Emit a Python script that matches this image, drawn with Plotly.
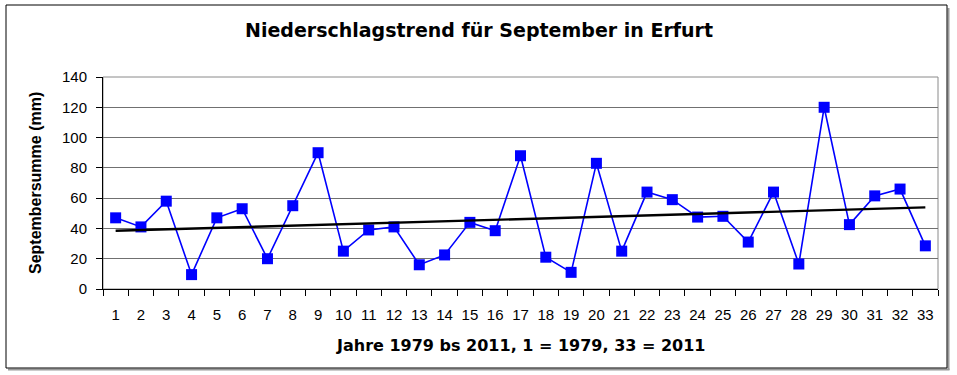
import numpy as np
import plotly.graph_objects as go

# Data
years_idx = [str(i) for i in range(1, 34)]
niederschlag = [47, 41, 58, 9.5, 47, 53, 20, 55, 90, 25, 39, 41, 16, 22.5, 44, 38.5,
                88, 21, 11, 83, 25, 64, 59, 47.5, 48, 31, 64, 16.5, 120, 42.5, 61.5, 66, 28.5]
y_ticks = [0, 20, 40, 60, 80, 100, 120, 140]

# Linear trend from the data
xnum = np.arange(1, 34)
coef = np.polyfit(xnum, niederschlag, 1)
trend = list(np.polyval(coef, xnum))

W, H = 957, 375
L, R, T, B = 103, 19, 77, 86
PW, PH = W - L - R, H - T - B


def px(x):
    return (x - L) / PW


def py(y):
    return (H - B - y) / PH


fig = go.Figure()
fig.add_trace(go.Scatter(
    x=years_idx, y=niederschlag, mode="lines+markers",
    line=dict(color="#0000FF", width=1.6),
    marker=dict(symbol="square", size=11, color="#0000FF", line=dict(width=0)),
    showlegend=False, cliponaxis=False))
fig.add_trace(go.Scatter(
    x=years_idx, y=trend, mode="lines",
    line=dict(color="black", width=2.4), showlegend=False))

FONT = "Liberation Sans, Arial, sans-serif"
BFONT = "DejaVu Sans, Arial, sans-serif"

fig.update_layout(
    width=W, height=H,
    margin=dict(l=L, r=R, t=T, b=B),
    paper_bgcolor="white", plot_bgcolor="white",
    font=dict(family=FONT, color="black"),
    xaxis=dict(type="category", tickson="boundaries", ticks="outside", ticklen=6,
               tickcolor="black", showline=True, linecolor="black", linewidth=1,
               showgrid=False, tickfont=dict(size=15, family=FONT), fixedrange=True,
               range=[-0.5, 32.5], ticklabelstandoff=12, tickangle=0),
    yaxis=dict(range=[0, 140], tickvals=y_ticks, ticks="outside", ticklen=6,
               tickcolor="black", showline=True, linecolor="black", linewidth=1,
               showgrid=True, gridcolor="#707070", gridwidth=1,
               tickfont=dict(size=15, family=FONT), ticklabelstandoff=6,
               zeroline=False),
    shapes=[
        dict(type="rect", xref="paper", yref="paper", x0=0, x1=1, y0=0, y1=1,
             line=dict(color="#8a8a8a", width=1), layer="below"),
        dict(type="line", xref="paper", yref="paper", x0=px(948.5), x1=px(948.5),
             y0=py(8), y1=py(370), line=dict(color="#9a9a9a", width=2)),
        dict(type="line", xref="paper", yref="paper", x0=px(8), x1=px(949.5),
             y0=py(369.5), y1=py(369.5), line=dict(color="#9a9a9a", width=2)),
        dict(type="rect", xref="paper", yref="paper", x0=px(6), x1=px(947),
             y0=py(368), y1=py(5), line=dict(color="black", width=1)),
    ],
    annotations=[
        dict(text="<b>Niederschlagstrend für September in Erfurt</b>", xref="paper",
             yref="paper", x=px(478.5), y=py(30), xanchor="center", yanchor="middle",
             showarrow=False, font=dict(size=19, family=BFONT)),
        dict(text="<b>Jahre 1979 bs 2011, 1 = 1979, 33 = 2011</b>", xref="paper",
             yref="paper", x=px(520), y=py(345), xanchor="center", yanchor="middle",
             showarrow=False, font=dict(size=16, family=BFONT)),
        dict(text="<b>Septembersumme (mm)</b>", xref="paper", yref="paper",
             x=px(35), y=py(183), xanchor="center", yanchor="middle", textangle=-90,
             showarrow=False, font=dict(size=16, family=FONT)),
    ],
)

fig.write_html("out.html", config={"displayModeBar": False},
               post_script="document.body.style.margin='0';document.body.style.overflow='hidden';")
